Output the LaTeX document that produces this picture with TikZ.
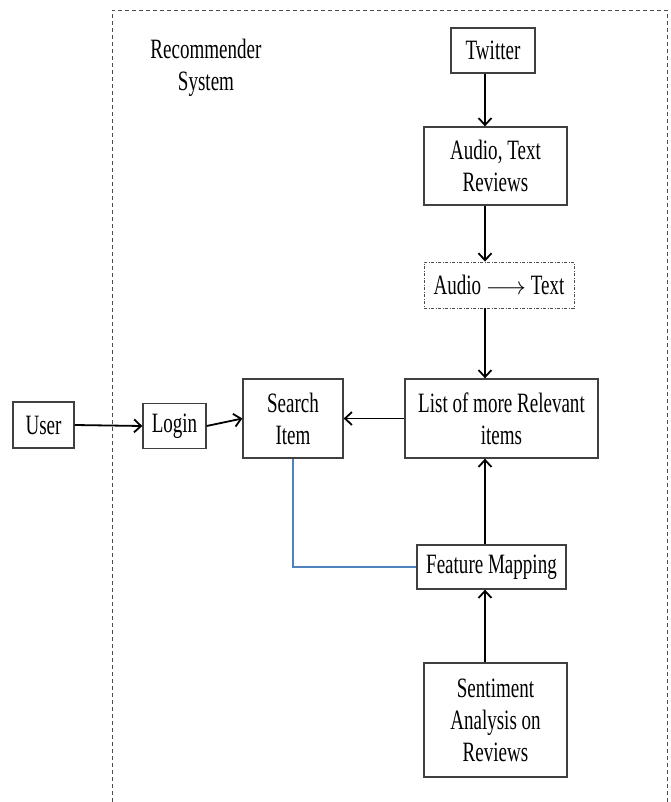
\documentclass[tikz,border=0pt]{standalone}
\usepackage{fontspec}
\setmainfont{Liberation Serif}[FakeStretch=0.68]
\usetikzlibrary{arrows.meta,positioning,calc}
\usepackage{xcolor}
\newcommand{\mylw}{1.3pt}
\colorlet{framegray}{black!75}
\definecolor{linkblue}{RGB}{79,129,189}
\tikzset{
    boxsty/.style={draw=framegray,line width=\mylw,fill=white,rectangle,align=center,inner sep=2pt,
      font=\fontsize{28}{32}\selectfont},
    dotboxsty/.style={boxsty,draw=black!70,line width=0.9pt,dash pattern=on 3pt off 1.5pt on 1pt off 1.5pt},
    labelsty/.style={align=center,font=\fontsize{28}{32}\selectfont},
    arrsty/.style={->,line width=1.8pt},
    linksty/.style={draw=linkblue,line width=1.1pt},
    outersty/.style={draw=black!70,line width=0.8pt,dash pattern=on 4pt off 3pt},
}
\begin{document}
\begin{tikzpicture}[x=1pt,y=-1pt,>={Straight Barb[length=7pt,width=13pt]}]
\useasboundingbox (0,0) rectangle (670,802);

% system frame, open at the bottom
\draw[outersty] (112,802) -- (112,10) -- (667,10) -- (667,802);
\node[labelsty] (recsys) at (206,68) {Recommender\\System};

% boxes
\node[boxsty,minimum width=61pt,minimum height=46pt] (user) at (43.5,425) {User};
\node[boxsty,minimum width=63pt,minimum height=45pt] (login) at (174.5,426) {Login};
\node[boxsty,minimum width=100pt,minimum height=79pt] (search) at (293,418.5) {Search\\Item};
\node[boxsty,minimum width=84pt,minimum height=45pt] (twitter) at (493,50.5) {Twitter};
\node[boxsty,minimum width=143pt,minimum height=78pt] (reviews) at (495.5,166) {Audio, Text\\Reviews};
\node[dotboxsty,minimum width=150pt,minimum height=46pt] (convert) at (499,285)
  {Audio $\longrightarrow$ Text};
\node[boxsty,minimum width=193pt,minimum height=79pt] (relevant) at (501.5,418.5)
  {List of more Relevant\\items};
\node[boxsty,minimum width=149pt,minimum height=44pt] (featmap) at (491.5,567) {Feature Mapping};
\node[boxsty,minimum width=143pt,minimum height=114pt] (sentiment) at (495.5,720)
  {Sentiment\\Analysis on\\Reviews};

% connectors
\coordinate (col) at (485,0);
\draw[arrsty] (twitter.south -| col) -- (reviews.north -| col);
\draw[arrsty] (reviews.south -| col) -- (convert.north -| col);
\draw[arrsty] (convert.south -| col) -- (relevant.north -| col);
\draw[arrsty] (relevant.west) -- (search.east);
\draw[arrsty] (user.east) -- (login.west);
\draw[arrsty] (login.east) -- (search.west);
\draw[arrsty] (featmap.north -| col) -- (relevant.south -| col);
\draw[arrsty] (sentiment.north -| col) -- (featmap.south -| col);
\draw[linksty] (search.south) |- (featmap.west);
\end{tikzpicture}
\end{document}
